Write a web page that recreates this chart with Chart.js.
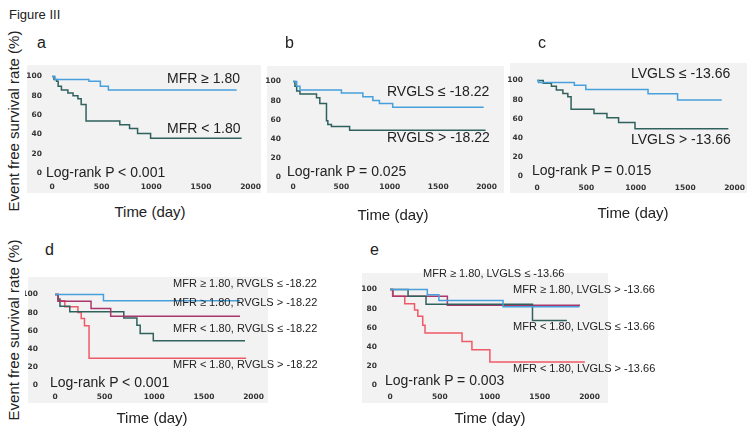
<!DOCTYPE html>
<html>
<head>
<meta charset="utf-8">
<script src="https://cdn.jsdelivr.net/npm/chart.js@4.4.1/dist/chart.umd.min.js"></script>
<style>
body { margin:0; width:747px; height:431px; background:#fff; position:relative; overflow:hidden; font-family:"Liberation Sans", Arial, sans-serif; color:#222; }
.bg { position:absolute; background:#f2f2f2; }
.box { position:absolute; }
.t { position:absolute; white-space:nowrap; line-height:1; transform:translateY(-50%); }
.ytitle { position:absolute; white-space:nowrap; font-size:15px; line-height:1; transform:translate(-50%,-50%) rotate(-90deg); }
.xtitle { position:absolute; white-space:nowrap; font-size:15px; line-height:1; transform:translate(-50%,-50%); }
.lab { position:absolute; font-size:16px; line-height:1; }
</style>
</head>
<body>
<div class="bg" style="left:27px;top:65px;width:234px;height:128px"></div>
<div class="bg" style="left:267px;top:66px;width:237px;height:127px"></div>
<div class="bg" style="left:510px;top:63px;width:237px;height:130px"></div>
<div class="bg" style="left:28px;top:277px;width:240px;height:126px"></div>
<div class="bg" style="left:362px;top:273px;width:246px;height:130px"></div>

<div class="box" id="panelA"></div>
<div class="box" id="panelB"></div>
<div class="box" id="panelC"></div>
<div class="box" id="panelD"></div>
<div class="box" id="panelE"></div>

<div class="t" style="left:9px;top:14px;font-size:13px">Figure III</div>
<div class="ytitle" style="left:13px;top:121px">Event free survival rate (%)</div>
<div class="ytitle" style="left:13px;top:330px">Event free survival rate (%)</div>
<div class="lab" style="left:37px;top:35px">a</div>
<div class="lab" style="left:285px;top:35px">b</div>
<div class="lab" style="left:538px;top:35px">c</div>
<div class="lab" style="left:45px;top:242px">d</div>
<div class="lab" style="left:370px;top:242px">e</div>
<div class="xtitle" style="left:150px;top:211px">Time (day)</div>
<div class="xtitle" style="left:393px;top:214px">Time (day)</div>
<div class="xtitle" style="left:633px;top:212px">Time (day)</div>
<div class="xtitle" style="left:152px;top:417px">Time (day)</div>
<div class="xtitle" style="left:490px;top:417px">Time (day)</div>

<!-- etiquetas dentro de los graficos -->
<div class="t" style="left:167px;top:78px;font-size:14px">MFR ≥ 1.80</div>
<div class="t" style="left:167px;top:128px;font-size:14px">MFR &lt; 1.80</div>
<div class="t" style="left:46px;top:172px;font-size:14px">Log-rank P &lt; 0.001</div>
<div class="t" style="left:387px;top:91px;font-size:14px">RVGLS ≤ -18.22</div>
<div class="t" style="left:387px;top:137px;font-size:14px">RVGLS &gt; -18.22</div>
<div class="t" style="left:287px;top:171px;font-size:14px">Log-rank P = 0.025</div>
<div class="t" style="left:631px;top:73px;font-size:14px">LVGLS ≤ -13.66</div>
<div class="t" style="left:631px;top:139px;font-size:14px">LVGLS &gt; -13.66</div>
<div class="t" style="left:532px;top:170px;font-size:14px">Log-rank P = 0.015</div>
<div class="t" style="left:173px;top:283px;font-size:11px">MFR ≥ 1.80, RVGLS ≤ -18.22</div>
<div class="t" style="left:173px;top:302px;font-size:11px">MFR ≥ 1.80, RVGLS &gt; -18.22</div>
<div class="t" style="left:173px;top:328px;font-size:11px">MFR &lt; 1.80, RVGLS ≤ -18.22</div>
<div class="t" style="left:173px;top:364px;font-size:11px">MFR &lt; 1.80, RVGLS &gt; -18.22</div>
<div class="t" style="left:50px;top:382px;font-size:14px">Log-rank P &lt; 0.001</div>
<div class="t" style="left:423px;top:273px;font-size:11px">MFR ≥ 1.80, LVGLS ≤ -13.66</div>
<div class="t" style="left:513px;top:289px;font-size:11px">MFR ≥ 1.80, LVGLS &gt; -13.66</div>
<div class="t" style="left:513px;top:326px;font-size:11px">MFR &lt; 1.80, LVGLS ≤ -13.66</div>
<div class="t" style="left:513px;top:368px;font-size:11px">MFR &lt; 1.80, LVGLS &gt; -13.66</div>
<div class="t" style="left:385px;top:380px;font-size:14px">Log-rank P = 0.003</div>

<script>
// Ticks
const xTicks = [0, 500, 1000, 1500, 2000];
const yTicks = [0, 20, 40, 60, 80, 100];

// Colores
const azul = '#47a0dc';
const verde = '#2f625d';
const granate = '#a8376b';
const rojo = '#f05a68';

// Grafico a: MFR
const aAltoT = [0, 30, 372, 487, 568, 1860];
const aAltoS = [100, 97, 95, 90, 86, 86];
const aBajoT = [0, 20, 46, 62, 95, 160, 212, 261, 294, 343, 683, 781, 862, 993, 1910];
const aBajoS = [100, 97, 95, 90, 86, 83, 80, 77, 71, 54, 50, 46, 41, 36, 36];

// Grafico b: RVGLS
const bBajoT = [0, 38, 72, 500, 722, 825, 893, 1030, 1970];
const bBajoS = [100, 95, 91, 88, 84, 80, 77, 73, 73];
const bAltoT = [0, 20, 38, 72, 243, 277, 346, 360, 397, 585, 1990];
const bAltoS = [100, 95, 90, 87, 83, 77, 59, 55, 53, 49, 49];

// Grafico c: LVGLS
const cBajoT = [0, 15, 378, 494, 1124, 1423, 1870];
const cBajoS = [100, 98, 95, 90.5, 86, 79.5, 79.5];
const cAltoT = [0, 63, 146, 196, 262, 312, 345, 577, 708, 826, 992, 1937];
const cAltoS = [100, 97, 94, 90, 86.5, 83, 70, 65.5, 61, 56, 49.5, 49.5];

// Grafico d: MFR + RVGLS
const d1T = [0, 488, 1864];
const d1S = [100, 93, 93];
const d2T = [0, 30, 363, 561, 1863];
const d2S = [100, 92.5, 84.5, 76, 76];
const d3T = [0, 33, 50, 149, 693, 825, 858, 990, 1914];
const d3S = [100, 95, 87, 81, 74, 66, 57, 49, 49];
const d4T = [0, 30, 99, 231, 264, 297, 343, 1925];
const d4S = [100, 93, 86.5, 80, 73.5, 65.5, 29.5, 29.5];

// Grafico e: MFR + LVGLS
const e1T = [0, 374, 490, 1133, 1900];
const e1S = [100, 94.5, 88.5, 82, 82];
const e2T = [0, 30, 575, 1904];
const e2S = [100, 93, 83.5, 83.5];
const e3T = [0, 181, 361, 1428, 1773];
const e3S = [100, 93, 84.5, 67.5, 67.5];
const e4T = [0, 26, 148, 246, 279, 328, 351, 722, 821, 1001, 1953];
const e4S = [100, 93, 85, 78.5, 72, 62.5, 54.5, 45.5, 37, 24, 24];

const fuenteTicks = { family: 'DejaVu Sans', size: 7.5, weight: 'bold' };

function inicializarPanel(id, area, padY, padX, curvas) {
    const cont = document.getElementById(id);
    const w = area.x1 - area.x0 + 45;
    const h = area.y0 - area.y100 + 35;
    cont.style.left = (area.x0 - 30) + 'px';
    cont.style.top = (area.y100 - 10) + 'px';
    const canvas = document.createElement('canvas');
    canvas.width = w;
    canvas.height = h;
    cont.appendChild(canvas);

    new Chart(canvas.getContext('2d'), {
        type: 'line',
        data: {
            datasets: curvas.map(c => ({
                data: c.t.map((t, i) => ({ x: t, y: c.s[i] })),
                borderColor: c.color,
                borderWidth: 1.5,
                pointRadius: 0,
                stepped: 'before',
                fill: false,
                clip: false
            }))
        },
        options: {
            responsive: false,
            animation: false,
            events: [],
            layout: { padding: { left: 0, right: 15, top: 10, bottom: 0 } },
            plugins: { legend: { display: false }, tooltip: { enabled: false } },
            scales: {
                x: {
                    type: 'linear', min: 0, max: 2000,
                    grid: { display: false, drawTicks: false },
                    border: { display: false },
                    ticks: { padding: padX, font: fuenteTicks, color: '#333', autoSkip: false, maxRotation: 0, callback: v => String(v) },
                    afterBuildTicks: s => { s.ticks = xTicks.map(v => ({ value: v })); },
                    afterFit: s => { s.height = 25; }
                },
                y: {
                    min: 0, max: 100,
                    grid: { display: false, drawTicks: false },
                    border: { display: false },
                    ticks: { padding: padY, font: fuenteTicks, color: '#333', autoSkip: false, callback: v => String(v) },
                    afterBuildTicks: s => { s.ticks = yTicks.map(v => ({ value: v })); },
                    afterFit: s => { s.width = 30; }
                }
            }
        }
    });
}

document.addEventListener('DOMContentLoaded', () => {
    inicializarPanel('panelA', { x0: 52, x1: 256, y100: 72, y0: 173 }, 10, 10, [
        { t: aAltoT, s: aAltoS, color: azul },
        { t: aBajoT, s: aBajoS, color: verde }
    ]);
    inicializarPanel('panelB', { x0: 293, x1: 488, y100: 75, y0: 177 }, 12, 6, [
        { t: bBajoT, s: bBajoS, color: azul },
        { t: bAltoT, s: bAltoS, color: verde }
    ]);
    inicializarPanel('panelC', { x0: 537, x1: 738, y100: 72, y0: 176 }, 14, 8, [
        { t: cBajoT, s: cBajoS, color: azul },
        { t: cAltoT, s: cAltoS, color: verde }
    ]);
    inicializarPanel('panelD', { x0: 55, x1: 257, y100: 283, y0: 385 }, 17, 8, [
        { t: d1T, s: d1S, color: azul },
        { t: d2T, s: d2S, color: granate },
        { t: d3T, s: d3S, color: verde },
        { t: d4T, s: d4S, color: rojo }
    ]);
    inicializarPanel('panelE', { x0: 390, x1: 593, y100: 282, y0: 385 }, 13, 8, [
        { t: e1T, s: e1S, color: azul },
        { t: e3T, s: e3S, color: verde },
        { t: e2T, s: e2S, color: granate },
        { t: e4T, s: e4S, color: rojo }
    ]);
});
</script>
</body>
</html>
